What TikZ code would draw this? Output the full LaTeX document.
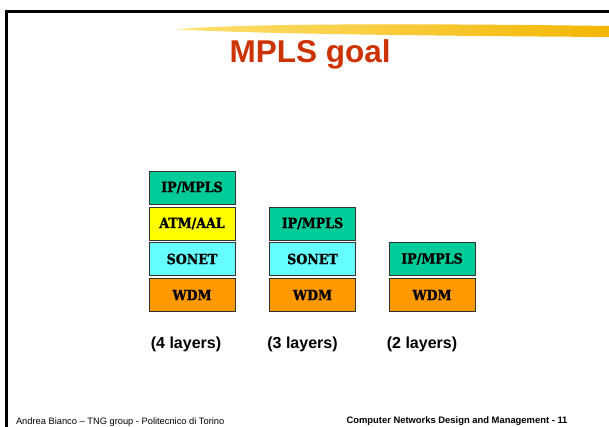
\documentclass[tikz,border=0pt]{standalone}
\usepackage{fontspec}
\setmainfont{Liberation Sans}
\newfontfamily\layerfont{DejaVu Serif Condensed}[FakeBold=1.4]
\definecolor{titlered}{HTML}{CC3300}
\definecolor{ipgreen}{HTML}{00CC99}
\definecolor{atmyellow}{HTML}{FFFF00}
\definecolor{sonetcyan}{HTML}{66FFFF}
\definecolor{wdmorange}{HTML}{FF9900}
\definecolor{brushlight}{HTML}{FFE070}
\definecolor{brushdark}{HTML}{F2B705}
\tikzset{
    layer/.style={draw=black!80, line width=0.8pt, minimum width=86pt, minimum height=33pt,
        inner sep=0pt, font=\layerfont\bfseries\fontsize{14}{15}\selectfont},
    count/.style={anchor=base, font=\bfseries\fontsize{16}{18}\selectfont},
}

\begin{document}
\begin{tikzpicture}[x=1pt, y=-1pt]
        \useasboundingbox (0,0) rectangle (609,427);
        % frame and brush stroke
        \draw[line width=3pt, miter limit=10] (6.5,427) -- (6.5,11.8) -- (609,11.8);
        \shade[left color=brushlight, right color=brushdark]
            (178,29.5) .. controls (220,24) and (400,23) .. (609,26)
            -- (609,37) .. controls (450,36) and (260,34) .. (178,29.5) -- cycle;
        \node[anchor=base west, text=titlered, font=\bfseries\fontsize{31.5}{34}\selectfont] at (226,63) (title) {MPLS goal};

        % 4 layers
        \node[layer, fill=ipgreen] at (192,187.5) (ip1) {IP/MPLS};
        \node[layer, fill=atmyellow] at (192,223.5) (atm1) {ATM/AAL};
        \node[layer, fill=sonetcyan] at (192,259) (sonet1) {SONET};
        \node[layer, fill=wdmorange] at (192,295) (wdm1) {WDM};
        % 3 layers
        \node[layer, fill=ipgreen] at (312.5,223.5) (ip2) {IP/MPLS};
        \node[layer, fill=sonetcyan] at (312.5,259) (sonet2) {SONET};
        \node[layer, fill=wdmorange] at (312.5,295) (wdm2) {WDM};
        % 2 layers
        \node[layer, fill=ipgreen] at (432,259) (ip3) {IP/MPLS};
        \node[layer, fill=wdmorange] at (432,295) (wdm3) {WDM};

        \node[count] at (186,348) (four) {(4 layers)};
        \node[count] at (302.5,348) (three) {(3 layers)};
        \node[count] at (422,348) (two) {(2 layers)};

        \node[anchor=base west, font=\fontsize{9.3}{10}\selectfont] at (12.5,424) (author) {Andrea Bianco -- TNG group - Politecnico di Torino};
        \node[anchor=base east, font=\bfseries\fontsize{9.4}{10}\selectfont] at (571,423) (course) {Computer Networks Design and Management - 11};
    \end{tikzpicture}
\end{document}
